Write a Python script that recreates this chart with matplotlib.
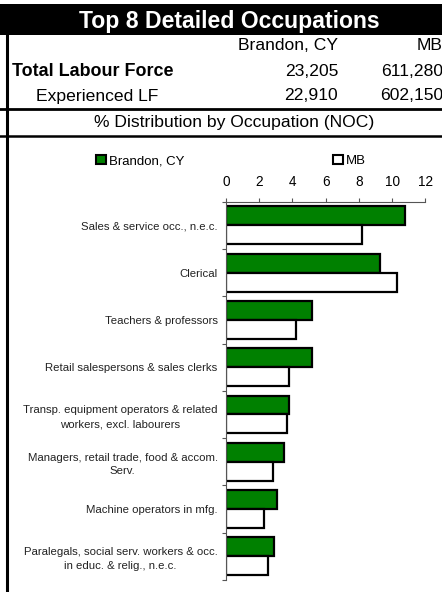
import matplotlib
matplotlib.use("Agg")
import matplotlib.pyplot as plt
from matplotlib.patches import Rectangle, Patch
from matplotlib.lines import Line2D
import numpy as np

plt.rcParams['font.family'] = ['Liberation Sans', 'DejaVu Sans']

# ---- data ----
title = "Top 8 Detailed Occupations"
col_heads = ["Brandon, CY", "MB"]
row_heads = ["Total Labour Force", "Experienced LF"]
total_lf = ["23,205", "611,280"]
exp_lf = ["22,910", "602,150"]
subtitle = "% Distribution by Occupation (NOC)"

categories = [
    "Sales & service occ., n.e.c.",
    "Clerical",
    "Teachers & professors",
    "Retail salespersons & sales clerks",
    "Transp. equipment operators & related\nworkers, excl. labourers",
    "Managers, retail trade, food & accom.\nServ.",
    "Machine operators in mfg.",
    "Paralegals, social serv. workers & occ.\nin educ. & relig., n.e.c.",
]
series_names = ["Brandon, CY", "MB"]
brandon = [10.8, 9.3, 5.2, 5.2, 3.8, 3.5, 3.1, 2.9]
mb = [8.2, 10.3, 4.2, 3.8, 3.7, 2.8, 2.3, 2.5]
xticks = [0, 2, 4, 6, 8, 10, 12]

W, H = 442, 592
fig = plt.figure(figsize=(W / 100, H / 100), dpi=100)

def fx(px):
    return px / W

def fy(py):
    return 1 - py / H

# title bar
fig.patches.append(Rectangle((0, fy(35)), 1, (35 - 4) / H, transform=fig.transFigure,
                             facecolor='black', edgecolor='none'))
fig.text(fx(229), fy(28), title, color='white', fontsize=16.6, fontweight='bold',
         ha='center', va='baseline')

# header table
fs = 12.6
fig.text(fx(338), fy(45), col_heads[0], fontsize=fs, ha='right', va='center')
fig.text(fx(443), fy(45), col_heads[1], fontsize=fs, ha='right', va='center')
fig.text(fx(93), fy(72), row_heads[0], fontsize=fs + 0.3, fontweight='bold', ha='center', va='center')
fig.text(fx(338), fy(72), total_lf[0], fontsize=fs, ha='right', va='center')
fig.text(fx(443), fy(72), total_lf[1], fontsize=fs, ha='right', va='center')
fig.text(fx(97), fy(96), row_heads[1], fontsize=fs, ha='center', va='center')
fig.text(fx(338), fy(96), exp_lf[0], fontsize=fs, ha='right', va='center')
fig.text(fx(443), fy(96), exp_lf[1], fontsize=fs, ha='right', va='center')
fig.text(fx(234), fy(123), subtitle, fontsize=fs, ha='center', va='center')

# lines
fig.add_artist(Line2D([0, 1], [fy(109), fy(109)], transform=fig.transFigure, color='black', lw=2.0))
fig.add_artist(Line2D([0, 1], [fy(136), fy(136)], transform=fig.transFigure, color='black', lw=1.8))
fig.add_artist(Line2D([fx(7), fx(7)], [fy(34), 0], transform=fig.transFigure, color='black', lw=2.2))

# chart
ax = fig.add_axes([fx(226), fy(580), (425.3 - 226) / W, (580 - 201.7) / H])
y = np.arange(len(categories))
h = 0.4
ax.barh(y - h / 2, brandon, height=h, color='#008000', edgecolor='black', linewidth=1.6)
ax.barh(y + h / 2, mb, height=h, color='white', edgecolor='black', linewidth=1.6)
ax.set_xlim(0, 12)
ax.set_ylim(len(categories) - 0.5, -0.5)
ax.xaxis.tick_top()
ax.set_xticks(xticks)
ax.set_xticklabels([str(t) for t in xticks])
ax.tick_params(axis='x', direction='out', length=3, width=0.8, color='#555555',
               labelsize=9.8, pad=6)
ax.set_yticks(y)
ax.set_yticklabels(categories, fontsize=8.2, color='#222222')
for lbl in ax.get_yticklabels():
    lbl.set_multialignment('center')
    lbl.set_linespacing(1.45)
ax.set_yticks(np.arange(len(categories) + 1) - 0.5, minor=True)
ax.tick_params(axis='y', which='major', length=0, pad=6)
ax.tick_params(axis='y', which='minor', length=3, width=0.8, direction='out', color='#555555')
for s in ['right', 'bottom']:
    ax.spines[s].set_visible(False)
ax.spines['top'].set_color('#555555')
ax.spines['left'].set_color('#555555')
ax.spines['top'].set_linewidth(0.8)
ax.spines['left'].set_linewidth(0.8)

# legend
handles = [Patch(facecolor='#008000', edgecolor='black', linewidth=1.5),
           Patch(facecolor='white', edgecolor='black', linewidth=1.5)]
fig.legend(handles, series_names, loc='center left', bbox_to_anchor=(fx(96), fy(161)),
           ncol=2, frameon=False, fontsize=9.5, handlelength=0.75, handleheight=0.75,
           handletextpad=0.2, columnspacing=11.3, borderpad=0, borderaxespad=0)

fig.savefig("out.png", dpi=100)
